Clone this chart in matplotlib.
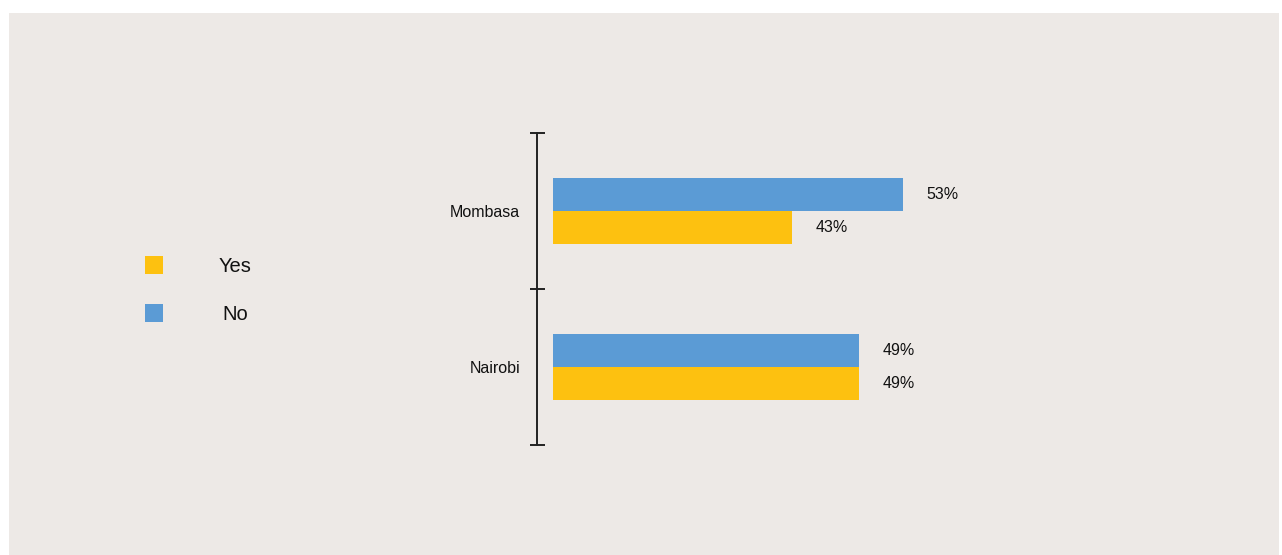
import matplotlib
matplotlib.use("Agg")
import matplotlib.pyplot as plt
from matplotlib.patches import Rectangle
import numpy as np

plt.rcParams['font.family'] = ['Liberation Sans', 'DejaVu Sans']

cities = ["Mombasa", "Nairobi"]
series_names = ["Yes", "No"]
yes_values = [43, 49]
no_values = [53, 49]
colors = {"Yes": "#FDC110", "No": "#5B9BD5"}

W, H, DPI = 1282, 555, 100
BG = "#EDE9E6"

fig = plt.figure(figsize=(W / DPI, H / DPI), dpi=DPI, facecolor="white")

# panel background
fig.add_artist(Rectangle((9 / W, -0.02), (1279 - 9) / W, (H - 13) / H + 0.02,
                         transform=fig.transFigure, facecolor=BG,
                         edgecolor="none", zorder=-10))

def px_box(x0, y0, x1, y1):
    return [x0 / W, 1 - y1 / H, (x1 - x0) / W, (y1 - y0) / H]

ax = fig.add_axes(px_box(553, 133, 1100, 445))
ax.set_facecolor("none")

y = np.arange(len(cities))
h = 0.21
b_no = ax.barh(y - h / 2, no_values, height=h, color=colors["No"], left=0)
b_yes = ax.barh(y + h / 2, yes_values, height=h, color=colors["Yes"], left=0)

ax.set_xlim(21.4, 21.4 + (1100 - 553) / 11.08)
ax.set_ylim(1.5, -0.5)

ax.bar_label(b_no, labels=[f"{v}%" for v in no_values], padding=17,
             fontsize=11.5, color="#111111")
ax.bar_label(b_yes, labels=[f"{v}%" for v in yes_values], padding=17,
             fontsize=11.5, color="#111111")

for s in ["top", "right", "bottom"]:
    ax.spines[s].set_visible(False)
ax.spines["left"].set_position(("outward", 11.5))
ax.spines["left"].set_color("#222222")
ax.spines["left"].set_linewidth(1.4)

ax.set_xticks([])
ax.set_yticks(y)
ax.set_yticklabels(cities, fontsize=11.5, color="#111111")
ax.tick_params(axis="y", which="major", length=0, pad=12)
ax.set_yticks([-0.5, 0.5, 1.5], minor=True)
ax.tick_params(axis="y", which="minor", direction="inout", length=10.8,
               width=1.4, color="#222222")

# legend
legend_rows = [("Yes", 265), ("No", 313)]
for name, yc in legend_rows:
    fig.add_artist(Rectangle((145 / W, 1 - (yc + 9) / H), 18 / W, 18 / H,
                             transform=fig.transFigure,
                             facecolor=colors[name], edgecolor="none"))
    fig.text(235 / W, 1 - (yc + 2) / H, name, ha="center", va="center",
             fontsize=14.5, color="#111111")

fig.savefig("out.png", dpi=DPI, facecolor=fig.get_facecolor())
